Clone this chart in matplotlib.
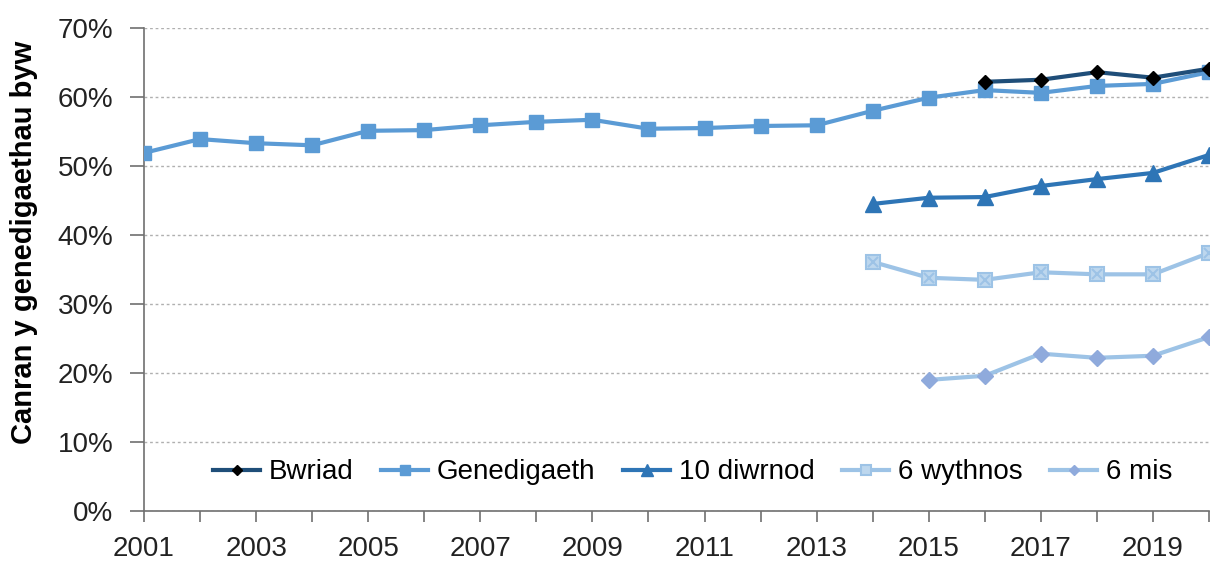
import numpy as np
import matplotlib.pyplot as plt
from matplotlib.ticker import PercentFormatter

plt.rcParams['font.family'] = ['Liberation Sans', 'DejaVu Sans']

# Data (percent of live births)
years_all = list(range(2001, 2021))
genedigaeth = [51.9, 53.9, 53.3, 53.0, 55.1, 55.2, 55.9, 56.4, 56.7, 55.4,
               55.5, 55.8, 55.9, 58.0, 59.9, 61.0, 60.6, 61.6, 61.9, 63.6]

years_bwriad = [2016, 2017, 2018, 2019, 2020]
bwriad = [62.2, 62.5, 63.6, 62.8, 64.1]

years_10d = [2014, 2015, 2016, 2017, 2018, 2019, 2020]
diwrnod_10 = [44.5, 45.4, 45.5, 47.1, 48.1, 49.0, 51.6]

years_6w = [2014, 2015, 2016, 2017, 2018, 2019, 2020]
wythnos_6 = [36.1, 33.8, 33.5, 34.6, 34.3, 34.3, 37.4]

years_6m = [2015, 2016, 2017, 2018, 2019, 2020]
mis_6 = [19.0, 19.6, 22.8, 22.2, 22.5, 25.2]

xtick_years = list(range(2001, 2021, 2))

fig = plt.figure(figsize=(12.1, 5.61), dpi=100)
ax = fig.add_axes([144/1210, 1 - 511/561, (1209 - 144)/1210, (511 - 28)/561])

ax.plot(years_bwriad, bwriad, color='#1f4e79', lw=3, marker='D', ms=7,
        mfc='black', mec='black', label='Bwriad', zorder=5)
ax.plot(years_all, genedigaeth, color='#5b9bd5', lw=3, marker='s', ms=10,
        label='Genedigaeth', zorder=4)
ax.plot(years_10d, diwrnod_10, color='#2e75b6', lw=3, marker='^', ms=12,
        label='10 diwrnod', zorder=4)
ax.plot(years_6w, wythnos_6, color='#9dc3e6', lw=3, marker='s', ms=10,
        mfc='#bdd7ee', mec='#9dc3e6', mew=1.5, label='6 wythnos', zorder=3)
# the cross inside the 6 wythnos squares
ax.plot(years_6w, wythnos_6, ls='none', marker='x', ms=7, mec='#9dc3e6',
        mew=1.5, zorder=3.5)
ax.plot(years_6m, mis_6, color='#9dc3e6', lw=3, marker='D', ms=8,
        mfc='#8faadc', mec='#8faadc', label='6 mis', zorder=3)

ax.set_xlim(2001, 2020)
ax.set_ylim(0, 70)
ax.set_yticks(np.arange(0, 71, 10))
ax.yaxis.set_major_formatter(PercentFormatter(decimals=0))
ax.set_xticks(xtick_years)
ax.set_xticks(years_all, minor=True)
ax.grid(axis='y', color='#b0b0b0', linestyle=(0, (2, 2)), lw=1)
ax.set_axisbelow(True)

for s in ['top', 'right']:
    ax.spines[s].set_visible(False)
for s in ['left', 'bottom']:
    ax.spines[s].set_color('#707070')
    ax.spines[s].set_linewidth(1.2)
ax.tick_params(axis='both', which='both', labelsize=20, color='#707070',
               length=8, width=1.2, direction='out', labelcolor='#222222')
ax.tick_params(axis='y', length=10, pad=12)
ax.tick_params(axis='x', pad=10)

ax.set_ylabel('Canran y genedigaethau byw', fontsize=21, fontweight='bold')
ax.yaxis.set_label_coords(-0.0995, 0.557)

ax.legend(loc='center', bbox_to_anchor=(0.515, 0.08), ncol=5, frameon=False,
          fontsize=20, handlelength=1.7, handletextpad=0.3, columnspacing=1.0,
          markerscale=0.7)

fig.savefig('out.png', dpi=100)
